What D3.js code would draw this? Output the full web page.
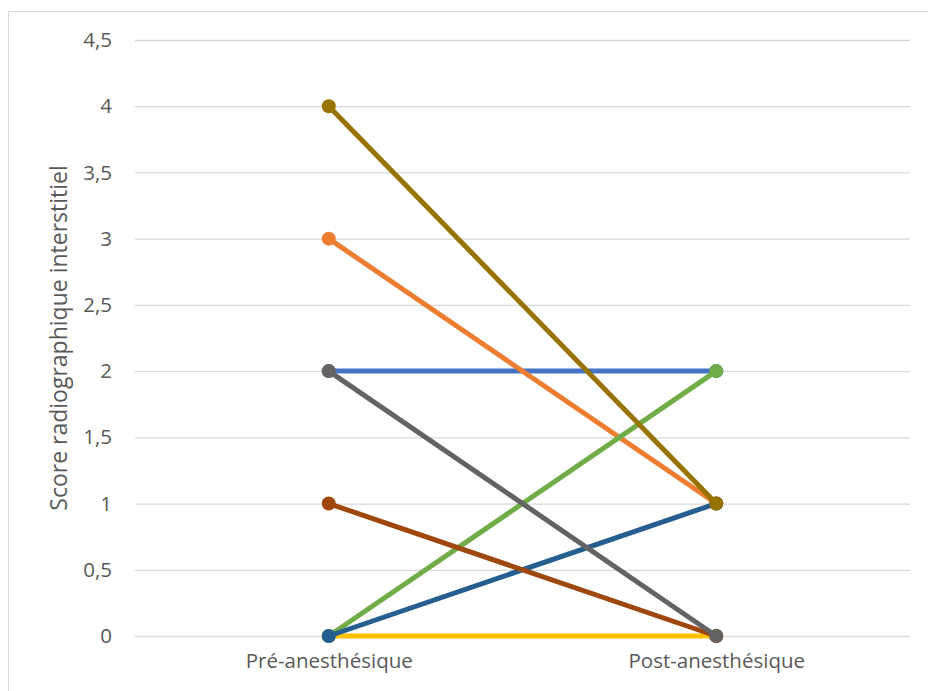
<!DOCTYPE html>
<html>
<head>
<meta charset="utf-8">
<script src="https://cdn.jsdelivr.net/npm/d3@7"></script>
<style>
body{margin:0;background:#fff;}
svg{display:block;font-family:"Open Sans",sans-serif;}
</style>
</head>
<body>
<svg id="chart" width="928" height="691"></svg>
<script>
const categories = ["Pré-anesthésique", "Post-anesthésique"];
const yTicks = [0, 0.5, 1, 1.5, 2, 2.5, 3, 3.5, 4, 4.5];
// series in drawing order (later drawn on top)
const seriesNames = ["S1", "S2", "S4", "S6", "S5", "S8", "S7", "S3"];
const seriesColors = ["#4472C4", "#ED7D31", "#FFC000", "#70AD47", "#255E91", "#997300", "#9E480E", "#636363"];
const seriesPre = [2, 3, 0, 0, 0, 4, 1, 2];
const seriesPost = [2, 1, 0, 2, 1, 1, 0, 0];
const yTitle = "Score radiographique interstitiel";

const svg = d3.select("#chart");
svg.append("rect").attr("x", 8.5).attr("y", 11.5).attr("width", 930).attr("height", 700)
  .attr("fill", "#fff").attr("stroke", "#d9d9d9");

const mLeft = 135, mRight = 910, mTop = 40, mBottom = 636;
const x = d3.scalePoint().domain(categories).range([mLeft, mRight]).padding(0.5);
const y = d3.scaleLinear().domain([0, 4.5]).range([mBottom, mTop]);
const fmt = d => String(d).replace(".", ",");
const FONT = "'Open Sans',sans-serif";

const yAxis = svg.append("g").attr("transform", `translate(${mLeft},0)`)
  .call(d3.axisLeft(y).tickValues(yTicks).tickFormat(fmt).tickSize(-(mRight - mLeft)).tickPadding(23));
yAxis.select(".domain").remove();
yAxis.selectAll(".tick line").attr("stroke", "#d9d9d9").attr("stroke-width", 1.3);
yAxis.selectAll(".tick text").attr("fill", "#595959").style("font-size", "20.5px").attr("font-family", FONT);

const xAxis = svg.append("g").attr("transform", `translate(0,${mBottom})`)
  .call(d3.axisBottom(x).tickSize(0).tickPadding(17));
xAxis.select(".domain").remove();
xAxis.selectAll(".tick text").attr("fill", "#595959").style("font-size", "20.5px").attr("font-family", FONT);

svg.append("text").attr("transform", `translate(67,${(mTop + mBottom) / 2}) rotate(-90)`)
  .attr("text-anchor", "middle").attr("fill", "#595959").style("font-size", "23px").attr("font-family", FONT).text(yTitle);

const line = d3.line().x(d => x(d.c)).y(d => y(d.v));
seriesNames.forEach((n, i) => {
  const pts = [{c: categories[0], v: seriesPre[i]}, {c: categories[1], v: seriesPost[i]}];
  const g = svg.append("g");
  g.append("path").datum(pts).attr("d", line).attr("fill", "none")
    .attr("stroke", seriesColors[i]).attr("stroke-width", 5).attr("stroke-linecap", "round");
  g.selectAll("circle").data(pts).join("circle")
    .attr("cx", d => x(d.c)).attr("cy", d => y(d.v)).attr("r", 7).attr("fill", seriesColors[i]);
});
</script>
</body>
</html>
